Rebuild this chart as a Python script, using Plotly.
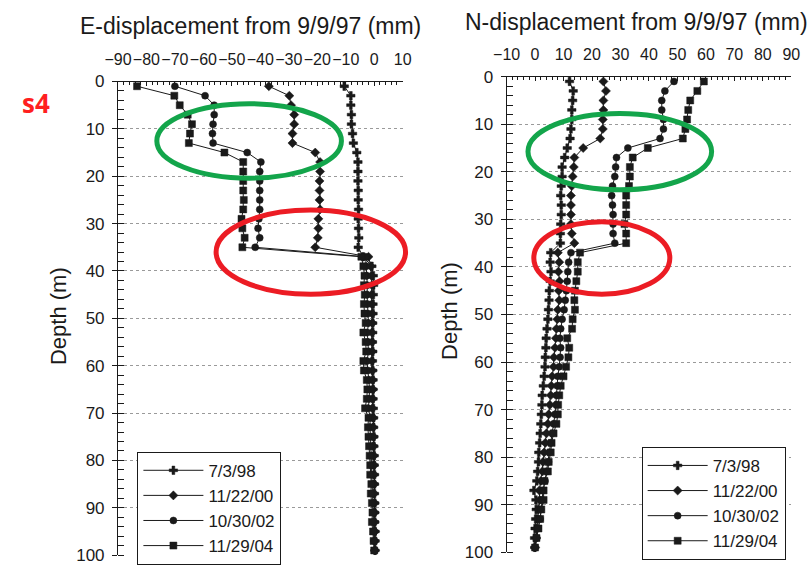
import plotly.graph_objects as go

# Inclinometer depths (m), readings every 2 m
depth = list(range(1, 100, 2))

# E-displacement relative to 9/9/97 (mm)
e_980703 = [-10.5, -8.2, -8.2, -8.0, -8.0, -7.6, -7.3, -6.1, -5.7, -5.7, -5.7, -5.6, -5.6, -5.5, -5.6, -5.5, -5.4, -5.6,
            -3.9, -0.8, -0.3, -0.2, -0.3, -0.4, -0.4, -0.5, -0.5, -0.6, -0.5, -0.6, -0.5, -0.4, -0.4, -0.4,
            -0.3, -0.2, -0.2, -0.1, -0.1, 0.0, 0.0, 0.1, 0.1, 0.1, 0.2, 0.2, 0.2, 0.3, 0.3, 0.3]
e_001122 = [-37.0, -29.8, -29.2, -28.1, -28.1, -28.7, -28.7, -20.7, -19.0, -19.0, -19.2, -19.2, -19.2, -19.0, -19.6, -19.6, -19.8, -20.7,
            -2.0, -1.2, -1.0, -0.8, -0.9, -0.8, -0.7, -0.6, -0.8, -0.7, -0.7, -0.8, -0.6, -0.5, -0.4, -0.5,
            -0.6, -0.3, -0.3, -0.2, -0.2, -0.1, 0.0, 0.0, 0.1, 0.0, 0.2, 0.2, 0.2, 0.3, 0.3, 0.3]
e_021030 = [-70.0, -59.4, -56.2, -56.2, -56.6, -56.8, -56.6, -44.6, -39.8, -40.2, -40.2, -40.2, -40.2, -40.2, -40.5, -40.8, -40.2, -41.8,
            -3.0, -2.8, -2.6, -2.4, -2.5, -2.3, -2.2, -2.0, -2.4, -2.2, -2.0, -2.5, -2.2, -1.8, -1.6, -1.8,
            -2.0, -1.4, -1.5, -1.3, -1.2, -1.0, -0.9, -0.8, -0.6, -0.7, -0.4, -0.3, -0.3, -0.1, 0.0, 0.2]
e_041129 = [-83.3, -70.2, -68.3, -65.5, -64.0, -64.7, -65.1, -52.6, -46.0, -46.0, -46.0, -46.0, -45.8, -46.0, -46.6, -46.3, -45.5, -46.3,
            -4.5, -3.8, -3.4, -3.6, -3.3, -3.6, -3.4, -3.0, -3.8, -3.0, -2.8, -3.8, -3.6, -2.6, -2.4, -2.6,
            -3.2, -2.0, -2.2, -2.0, -1.8, -1.6, -1.4, -1.4, -1.0, -1.2, -0.8, -0.6, -0.8, -0.4, -0.2, 0.0]

# N-displacement relative to 9/9/97 (mm)
n_980703 = [12.1, 13.4, 13.2, 12.9, 12.9, 12.6, 12.3, 11.3, 10.4, 9.5, 9.5, 9.2, 9.0, 9.2, 9.2, 9.0, 8.9, 8.9,
            5.5, 5.3, 5.6, 5.3, 5.0, 4.9, 4.7, 4.5, 4.2, 3.9, 3.8, 3.6, 3.5, 3.2, 2.9, 2.5,
            2.4, 2.2, 2.0, 1.8, 1.6, 1.3, 1.2, 0.9, 0.6, -0.4, 0.3, 0.4, 0.2, 0.0, -0.2, -0.1]
n_001122 = [24.0, 24.9, 24.0, 24.0, 23.8, 23.8, 22.9, 16.9, 13.8, 13.6, 13.2, 12.9, 12.6, 12.6, 12.6, 12.6, 12.9, 13.8,
            8.0, 8.5, 8.2, 8.6, 8.3, 8.5, 8.0, 7.8, 7.5, 7.3, 7.0, 6.6, 6.5, 6.0, 5.7, 5.5,
            5.2, 4.8, 4.5, 4.0, 3.6, 3.2, 2.8, 2.6, 2.0, 1.5, 1.6, 1.2, 1.0, 0.6, 0.4, 0.0]
n_021030 = [48.8, 45.6, 44.5, 44.5, 45.1, 45.1, 43.9, 32.6, 28.6, 28.3, 28.0, 27.2, 26.9, 27.2, 27.4, 27.4, 27.4, 28.0,
            12.6, 11.8, 11.5, 11.3, 11.0, 10.6, 10.2, 9.5, 9.0, 8.7, 9.0, 8.8, 8.5, 8.0, 7.8, 7.5,
            7.4, 7.0, 6.5, 6.0, 5.5, 5.0, 4.7, 4.2, 3.5, 2.8, 2.5, 2.0, 1.8, 1.0, 0.6, 0.0]
n_041129 = [59.3, 57.0, 54.5, 53.8, 53.4, 52.8, 51.9, 39.6, 34.3, 33.3, 33.3, 33.0, 32.0, 32.0, 32.0, 31.4, 32.0, 32.0,
            15.8, 15.0, 15.0, 14.5, 14.0, 13.8, 14.0, 13.2, 13.0, 11.3, 12.0, 11.7, 10.9, 10.0, 9.0, 8.5,
            8.1, 8.0, 7.5, 6.5, 5.8, 5.5, 4.8, 4.5, 3.3, 3.0, 3.0, 2.2, 1.8, 1.2, 0.5, 0.0]

survey_dates = ["7/3/98", "11/22/00", "10/30/02", "11/29/04"]
e_series = [e_980703, e_001122, e_021030, e_041129]
n_series = [n_980703, n_001122, n_021030, n_041129]
symbols = ["cross", "diamond", "circle", "square"]
sizes = [7, 7, 7, 7]

W, H = 810, 570
INK = "#1a1a1a"
FONT = "Liberation Sans, Arial, sans-serif"


def px(x):
    return x / W


def py(y):
    return 1 - y / H


fig = go.Figure()

for label, vals, sym, sz in zip(survey_dates, e_series, symbols, sizes):
    fig.add_trace(go.Scatter(
        x=vals, y=depth, name=label, mode="lines+markers",
        xaxis="x", yaxis="y", legend="legend",
        line=dict(color=INK, width=1),
        marker=dict(symbol=sym, size=sz, color=INK, line=dict(color=INK, width=0.5)),
    ))

for label, vals, sym, sz in zip(survey_dates, n_series, symbols, sizes):
    fig.add_trace(go.Scatter(
        x=vals, y=depth, name=label, mode="lines+markers",
        xaxis="x2", yaxis="y2", legend="legend2",
        line=dict(color=INK, width=1),
        marker=dict(symbol=sym, size=sz, color=INK, line=dict(color=INK, width=0.5)),
    ))

xaxis_common = dict(
    side="top", dtick=10, showgrid=False, zeroline=False,
    showline=True, linecolor=INK, linewidth=1,
    ticks="inside", ticklen=4, tickcolor=INK,
    minor=dict(dtick=2, ticks="inside", ticklen=3, tickcolor=INK),
    tickfont=dict(size=16, color=INK, family=FONT),
    tickangle=0, ticklabelstandoff=9,
    fixedrange=True,
)
yaxis_common = dict(
    range=[100, 0], dtick=10, zeroline=False,
    showline=True, linecolor=INK, linewidth=1,
    showgrid=True, gridcolor="#9a9a9a", griddash="dot", gridwidth=1,
    ticks="outside", ticklen=5, tickcolor=INK,
    minor=dict(dtick=2, ticks="inside", ticklen=6, tickcolor=INK, showgrid=False),
    tickfont=dict(size=17, color=INK, family=FONT),
    ticklabelstandoff=4,
    fixedrange=True,
)

legend_common = dict(
    xanchor="left", yanchor="top",
    bgcolor="white", bordercolor=INK, borderwidth=1,
    font=dict(size=17, color=INK, family=FONT),
    itemwidth=60, tracegroupgap=0,
)

fig.update_layout(
    width=W, height=H,
    margin=dict(l=0, r=0, t=0, b=0),
    paper_bgcolor="white", plot_bgcolor="white",
    font=dict(family=FONT, color=INK),
    xaxis=dict(xaxis_common, domain=[px(107), px(400)], range=[-90, 10], anchor="y"),
    yaxis=dict(yaxis_common, domain=[py(565), py(75)], anchor="x"),
    xaxis2=dict(xaxis_common, domain=[px(507), px(800)], range=[-10, 90], anchor="y2"),
    yaxis2=dict(yaxis_common, domain=[py(562), py(70)], anchor="x2"),
    legend=dict(legend_common, x=px(127), y=py(458)),
    legend2=dict(legend_common, x=px(646), y=py(453)),
    showlegend=True,
)

annotations = [
    dict(text="E-displacement from 9/9/97 (mm)", x=px(243), y=py(18), font=dict(size=23)),
    dict(text="N-displacement from 9/9/97 (mm)", x=px(641), y=py(13), font=dict(size=23)),
    dict(text="Depth (m)", x=px(46), y=py(318), textangle=-90, font=dict(size=22)),
    dict(text="Depth (m)", x=px(448), y=py(312), textangle=-90, font=dict(size=22)),
    dict(text="<b>s4</b>", x=px(23), y=py(97), font=dict(size=26, color="#ff1f1f", family="Open Sans, sans-serif")),
]
for a in annotations:
    a.update(xref="paper", yref="paper", showarrow=False, xanchor="center", yanchor="middle")
    a["font"] = dict(dict(family=FONT, color=INK), **a["font"])
fig.update_layout(annotations=annotations)

# Highlight ellipses around the slip zones
GREEN = "#13a54b"
RED = "#ec1c24"
ellipses = [
    (147, 98, 337, 175, GREEN),
    (208, 208, 403, 295, RED),
    (529, 108, 718, 187, GREEN),
    (535, 220, 675, 295, RED),
]
for x0, y0, x1, y1, col in ellipses:
    fig.add_shape(type="circle", xref="paper", yref="paper",
                  x0=px(x0), x1=px(x1), y0=py(y1), y1=py(y0),
                  line=dict(color=col, width=5), layer="above")

fig.write_html("out.html")
